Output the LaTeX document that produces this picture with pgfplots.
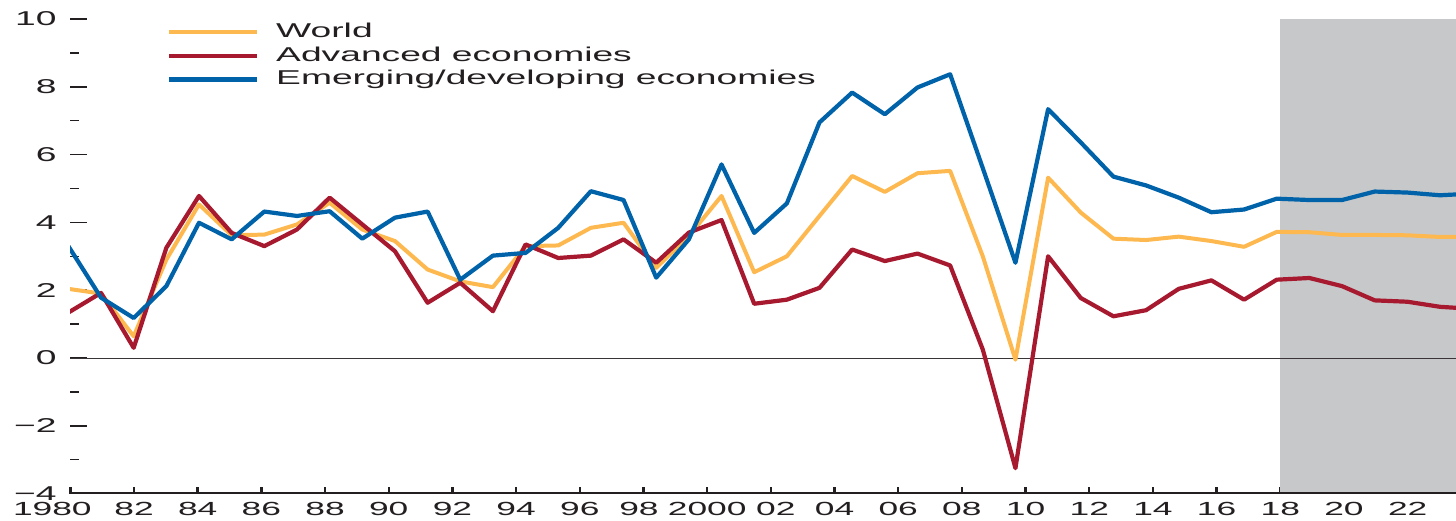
\documentclass[border=0pt]{standalone}
\usepackage{pgfplots}
\pgfplotsset{compat=1.18}
\usepackage{pgfplotstable}
\usepackage{fontspec}
\setmainfont{Liberation Sans}[FakeStretch=1.86]
\definecolor{wyellow}{RGB}{253,185,80}
\definecolor{ared}{RGB}{166,25,46}
\definecolor{eblue}{RGB}{0,99,169}
\definecolor{shadegray}{RGB}{199,200,202}
\definecolor{txt}{RGB}{35,31,32}

\pgfplotstableread{
year W A E
1980 2.04 1.34 3.30
1981 1.90 1.92 1.78
1982 0.64 0.30 1.18
1983 2.90 3.25 2.12
1984 4.53 4.78 3.99
1985 3.62 3.69 3.50
1986 3.64 3.30 4.32
1987 3.94 3.79 4.19
1988 4.58 4.73 4.33
1989 3.79 3.94 3.52
1990 3.45 3.15 4.14
1991 2.61 1.63 4.32
1992 2.26 2.22 2.31
1993 2.09 1.38 3.02
1994 3.30 3.35 3.10
1995 3.32 2.95 3.84
1996 3.84 3.02 4.92
1997 3.99 3.50 4.66
1998 2.66 2.81 2.37
1999 3.60 3.70 3.50
2000 4.78 4.07 5.71
2001 2.53 1.60 3.69
2002 3.00 1.72 4.56
2003 4.19 2.07 6.95
2004 5.37 3.20 7.83
2005 4.90 2.86 7.19
2006 5.45 3.08 7.98
2007 5.52 2.73 8.37
2008 3.00 0.25 5.60
2009 -0.05 -3.25 2.81
2010 5.32 3.00 7.34
2011 4.29 1.77 6.36
2012 3.52 1.23 5.35
2013 3.48 1.41 5.09
2014 3.58 2.04 4.73
2015 3.45 2.29 4.30
2016 3.28 1.72 4.38
2017 3.72 2.31 4.70
2018 3.71 2.36 4.66
2019 3.63 2.12 4.66
2020 3.63 1.70 4.91
2021 3.62 1.66 4.88
2022 3.57 1.51 4.80
2023 3.57 1.45 4.85
}\growth

\begin{document}
\begin{tikzpicture}
\path[use as bounding box] (0,0) rectangle (728pt,260pt);
\begin{axis}[
  at={(35pt,13.2pt)}, anchor=south west,
  scale only axis, width=693pt, height=237.3pt,
  xmin=1980.05, xmax=2022.49, ymin=-4, ymax=10,
  axis line style={draw=none},
  xtick={1980.06,1982.01,1983.96,1985.91,1987.86,1989.81,1991.76,1993.71,1995.66,1997.61,1999.56,2001.51,2003.46,2005.41,2007.36,2009.31,2011.26,2013.21,2015.16,2017.11,2019.06,2021.01},
  xticklabels={{\hspace*{-18pt}1980},82,84,86,88,90,92,94,96,{\hspace*{-4.5pt}98},2000,{02\hspace*{-5pt}},04,06,08,10,12,14,16,18,20,22},
  ytick={-4,-2,0,2,4,6,8,10},
  yticklabels={−4,−2,0,2,4,6,8,10},
  minor ytick={-3,-1,1,3,5,7,9},
  tick align=inside,
  xtick pos=bottom, ytick pos=left,
  major tick length=8.5pt, minor tick length=4.5pt,
  xtick style={/pgfplots/major tick length=3.5pt, line width=1.2pt, draw=txt},
  ytick style={line width=0.75pt, draw=txt},
  xticklabel style={font=\fontsize{9.5}{12}\selectfont, text=txt, inner sep=0pt, anchor=north, yshift=-4.2pt},
  yticklabel style={font=\fontsize{10}{12}\selectfont, text=txt, inner sep=0pt, anchor=east, xshift=-6.5pt},
  legend style={draw=none, fill=none, at={(0.070,0.992)}, anchor=north west,
    font=\fontsize{10}{12}\selectfont, text=txt, inner sep=0pt, outer sep=0pt,
    nodes={inner sep=0pt, text height=7.3pt, text depth=2pt}, row sep=2.55pt,
    /tikz/every odd column/.append style={column sep=8.5pt}},
  legend cell align=left,
  legend image code/.code={\draw[#1] (0pt,0pt) -- (44pt,0pt);},
]
\fill[shadegray] (axis cs:2017.11,-4) rectangle (axis cs:2022.49,10);
\draw[line width=0.5pt, draw=txt!90] (axis cs:1980.05,0) -- (axis cs:2022.49,0);
\addplot[wyellow, line width=2pt, line join=round] table[x=year, y=W] {\growth};
\addlegendentry{World}
\addplot[ared, line width=2.1pt, line join=round] table[x=year, y=A] {\growth};
\addlegendentry{Advanced economies}
\addplot[eblue, line width=2.1pt, line join=round] table[x=year, y=E] {\growth};
\addlegendentry{Emerging/developing economies}
\draw[line width=1.2pt, draw=txt] (axis cs:1980.05,-4) -- (axis cs:2022.49,-4);
\end{axis}
\end{tikzpicture}
\end{document}
